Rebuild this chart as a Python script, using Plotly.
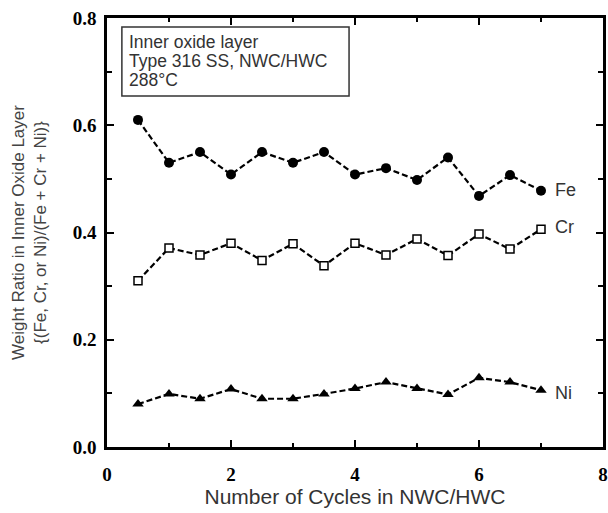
import plotly.graph_objects as go

cycles = [0.5, 1, 1.5, 2, 2.5, 3, 3.5, 4, 4.5, 5, 5.5, 6, 6.5, 7]
fe = [0.61, 0.53, 0.55, 0.508, 0.55, 0.53, 0.55, 0.508, 0.52, 0.498, 0.54, 0.468, 0.507, 0.478]
cr = [0.31, 0.371, 0.358, 0.38, 0.348, 0.379, 0.338, 0.38, 0.358, 0.388, 0.357, 0.397, 0.369, 0.406]
ni = [0.08, 0.099, 0.09, 0.108, 0.09, 0.09, 0.099, 0.109, 0.121, 0.109, 0.098, 0.129, 0.121, 0.106]
box_lines = ["Inner oxide layer", "Type 316 SS, NWC/HWC", "288°C"]

fig = go.Figure()
line = dict(color="black", width=2.2, dash="6px,3px")
fig.add_trace(go.Scatter(x=cycles, y=fe, mode="lines+markers", line=line,
                         marker=dict(symbol="circle", size=10, color="black")))
fig.add_trace(go.Scatter(x=cycles, y=cr, mode="lines+markers", line=line,
                         marker=dict(symbol="square", size=8, color="white",
                                     line=dict(color="black", width=1.5))))
fig.add_trace(go.Scatter(x=cycles, y=ni, mode="lines+markers", line=line,
                         marker=dict(symbol="triangle-up", size=10, color="black")))

# series labels at line ends
lab_font = dict(family="Liberation Sans", size=18, color="#333")
for name, yv in [("Fe", 0.479), ("Cr", 0.41), ("Ni", 0.101)]:
    fig.add_annotation(x=7.2, y=yv, text=name, showarrow=False, xanchor="left",
                       font=lab_font)

# info box
fig.add_shape(type="rect", xref="paper", yref="paper", x0=0.030, x1=0.488, y0=0.818, y1=0.979,
              line=dict(color="#333", width=1.5), fillcolor="white")
for i, txt in enumerate(box_lines):
    fig.add_annotation(x=0.04, y=0.945 - i * 0.045, xref="paper", yref="paper", text=txt,
                       showarrow=False, xanchor="left", yanchor="middle",
                       font=dict(family="Liberation Sans", size=17.5, color="#333"))

axis = dict(showline=True, linecolor="black", linewidth=2.5, mirror="allticks",
            ticks="inside", ticklen=7, tickwidth=2, tickcolor="black",
            showgrid=False, zeroline=False,
            tickfont=dict(family="Liberation Serif", size=19, color="black", weight="bold"))

fig.update_xaxes(axis, range=[0, 8], dtick=2, tickformat="d",
                 minor=dict(dtick=1, ticks="inside", ticklen=4, tickwidth=2, tickcolor="black"),
                 ticklabelstandoff=8,
                 title_text="Number of Cycles in NWC/HWC", title_standoff=4,
                 title_font=dict(family="Liberation Sans", size=21, color="#333"))
fig.update_yaxes(axis, range=[0, 0.8], dtick=0.2, tickformat=".1f",
                 minor=dict(dtick=0.1, ticks="inside", ticklen=5, tickwidth=2, tickcolor="black"),
                 ticklabelstandoff=4,
                 title_text="Weight Ratio in Inner Oxide Layer<br>{(Fe, Cr, or Ni)/(Fe + Cr + Ni)}",
                 title_standoff=22,
                 title_font=dict(family="Liberation Sans", size=17, color="#444"))

fig.update_layout(width=608, height=513, showlegend=False,
                  plot_bgcolor="white", paper_bgcolor="white",
                  margin=dict(l=107, r=5, t=18, b=66, autoexpand=False))

fig.write_html("out.html", config={"displayModeBar": False},
               post_script="document.body.style.margin='0';")
